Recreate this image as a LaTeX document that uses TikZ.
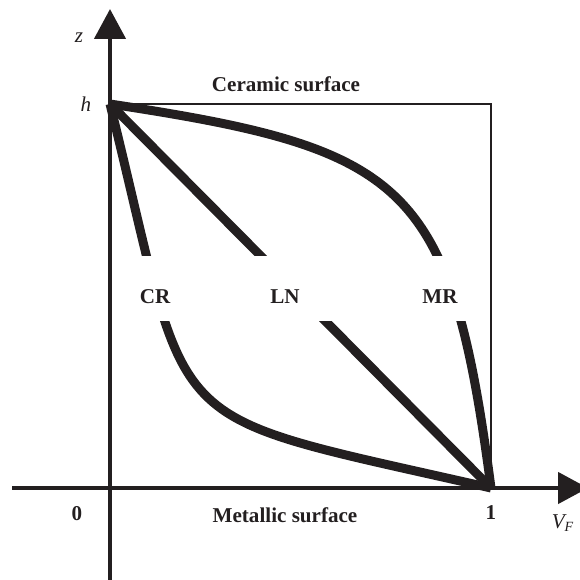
\documentclass[tikz,border=0pt]{standalone}
\usepackage{fontspec}
\setmainfont{Liberation Serif}
\usetikzlibrary{arrows.meta}
\definecolor{ink}{RGB}{35,31,32}
\tikzset{
  axe/.style={ink, line width=2.6pt, -{Triangle[length=0.6cm,width=0.62cm]}},
  courbe/.style={ink, line width=5.1pt},
  etiq/.style={font=\fontsize{12}{14}\selectfont\bfseries, text=ink},
  var/.style={font=\fontsize{12}{14}\selectfont\itshape, text=ink}
}

\begin{document}
\begin{tikzpicture}[x=0.02cm,y=-0.02cm]
        \useasboundingbox (0,0) rectangle (579,580);
        % Points du carre
        \coordinate (O) at (110,488);
        \coordinate (h) at (110,104);
        \coordinate (un) at (491,488);
        \coordinate (coin) at (491,104);
        % Cadre fin
        \draw[ink, line width=0.85pt] (h) -- (coin) -- (un);
        % Profils CR, LN, MR
        \draw[courbe] (h) .. controls (194,443) and (150,410) .. (un);
        \draw[courbe] (h) -- (un);
        \draw[courbe] (h) .. controls (407,149) and (451,182) .. (un);
        % Coupure sous les etiquettes
        \fill[white] (125,256) rectangle (475,321);
        \node[etiq] (cr) at (155,297) {CR};
        \node[etiq] (ln) at (285,297) {LN};
        \node[etiq] (mr) at (440,297) {MR};
        % Surfaces
        \node[etiq] (ceram) at (286,84) {Ceramic surface};
        \node[etiq] (metal) at (285,515) {Metallic surface};
        % Axes
        \draw[axe] (12,488) -- (588,488);
        \draw[axe] (110,580) -- (110,9);
        \node[etiq] (zero) at (77,514) {0};
        \node[etiq] (unlab) at (491,513) {1};
        \node[var] (zlab) at (79,38) {z};
        \node[var] (hlab) at (86,104) {h};
        \node[var] (vf) at (563,523) {V\textsubscript{F}};
    \end{tikzpicture}
\end{document}
